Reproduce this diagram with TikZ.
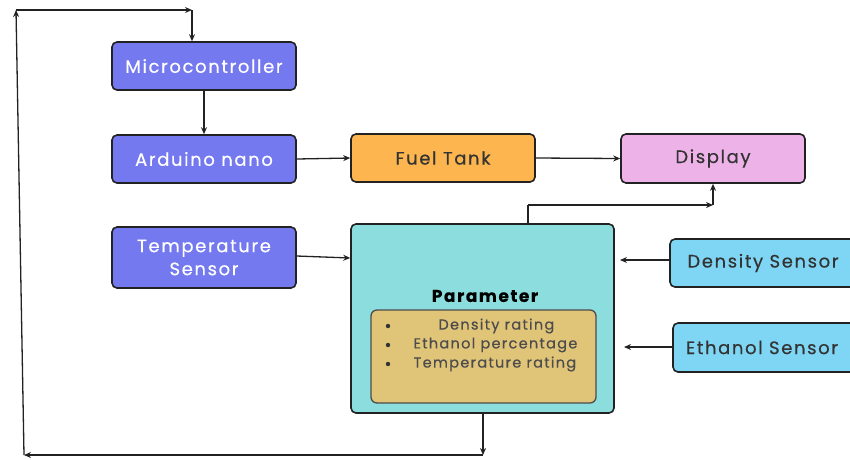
\documentclass[tikz,border=0pt]{standalone}
\usepackage{fontspec}
\setmainfont{Poppins}[LetterSpace=9, FakeBold=0.4]
\usetikzlibrary{arrows.meta}
\definecolor{cblue}{HTML}{7479EF}
\definecolor{corange}{HTML}{FDB64F}
\definecolor{cpink}{HTML}{EDB3E8}
\definecolor{cteal}{HTML}{8CDEDE}
\definecolor{csand}{HTML}{E0C478}
\definecolor{csky}{HTML}{7ED6F4}
\definecolor{cline}{HTML}{222222}
\definecolor{ctext}{HTML}{333333}
\begin{document}
\begin{tikzpicture}[x=1pt,y=-1pt,
 box/.style={draw=cline, line width=1.6pt, rounded corners=5pt, inner sep=0pt, align=center, font=\fontsize{18}{23}\selectfont, text=ctext},
 arr/.style={-{Stealth[length=7pt,width=6pt]}, line width=1.3pt, cline},
 ln/.style={line width=1.3pt, cline},
 item/.style={font=\fontsize{14.5}{18}\selectfont, text=black!70, anchor=west}
]
\useasboundingbox (0,0) rectangle (850,459);
% boxes
\node[box, fill=cblue, text=white, minimum width=184pt, minimum height=48pt] (mc) at (204,66) {Microcontroller};
\node[box, fill=cblue, text=white, minimum width=184pt, minimum height=48pt] (an) at (204,159) {Arduino nano};
\node[box, fill=cblue, text=white, minimum width=184pt, minimum height=61pt] (ts) at (204,257.5) {Temperature\\Sensor};
\node[box, fill=corange, minimum width=184pt, minimum height=48pt] (ft) at (443,158) {Fuel Tank};
\node[box, fill=cpink, minimum width=184pt, minimum height=49pt] (dp) at (713,158.5) {Display};
\node[box, fill=cteal, minimum width=263pt, minimum height=189pt] (pm) at (482.5,318.5) {};
\node[box, fill=csky, minimum width=186pt, minimum height=48pt] (ds) at (763,263) {Density Sensor};
\node[box, fill=csky, minimum width=184pt, minimum height=49pt] (es) at (765,347.5) {\hspace*{-6pt}Ethanol Sensor};
\node[font=\bfseries\fontsize{17}{20}\selectfont, text=black] (pt) at (485,296) {Parameter};
\node[draw=black!70, line width=1.3pt, rounded corners=6pt, fill=csand, minimum width=225pt, minimum height=93pt] (ib) at (483.5,356.5) {};
\node[item] (b1) at (435,326) {Density rating};
\node[item] (b2) at (410,345) {Ethanol percentage};
\node[item] (b3) at (410,364) {Temperature rating};
\fill[black!80] (388,326) circle (2.2pt) (388,345) circle (2.2pt) (388,364) circle (2.2pt);
% connectors
\draw[arr] (mc.south) -- (an.north);
\draw[arr] (an.east) -- (ft.west);
\draw[arr] (ft.east) -- (dp.west);
\draw[arr] (ts.east |- 0,256) -- (pm.west |- 0,258);
\coordinate (d1) at (620,260);
\coordinate (e1) at (624,347);
\draw[arr] (ds.west |- d1) -- (d1);
\draw[arr] (es.west |- e1) -- (e1);
\coordinate (p1) at (528,205);
\coordinate (p2) at (713,205);
\draw[ln] (pm.north -| p1) -- (p1);
\draw[arr] (p1) -- (p2);
\draw[arr] (p2) -- (dp.south);
\coordinate (q1) at (483,455);
\coordinate (q2) at (24,455);
\coordinate (q3) at (16,10);
\coordinate (q4) at (192,10);
\draw[arr] (pm.south -| q1) -- (q1);
\draw[arr] (q1) -- (q2);
\draw[arr] (q2) -- (q3);
\draw[arr] (q3) -- (q4);
\draw[arr] (q4) -- (mc.north -| q4);
\end{tikzpicture}
\end{document}
